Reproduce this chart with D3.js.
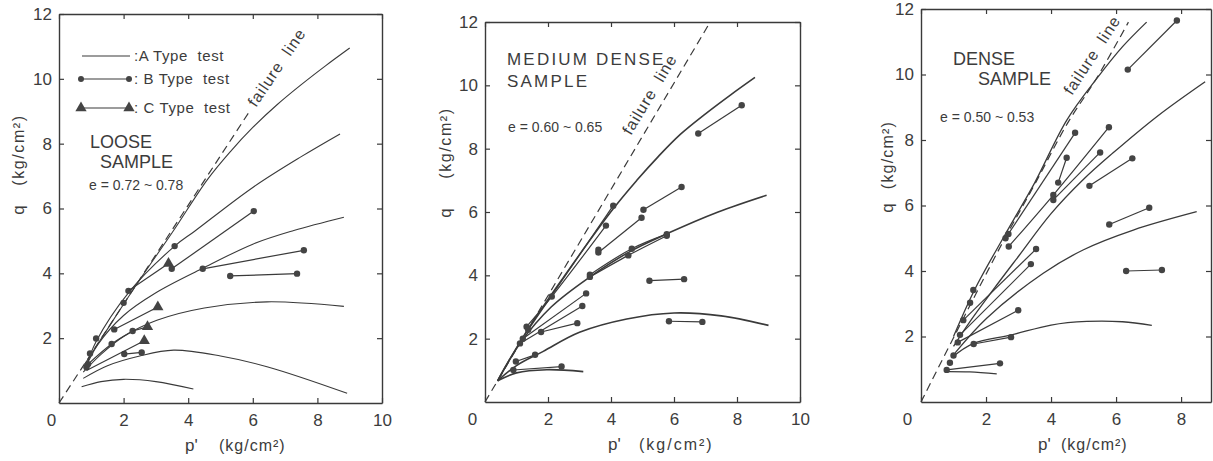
<!DOCTYPE html>
<html>
<head>
<meta charset="utf-8">
<script src="https://cdn.jsdelivr.net/npm/d3@7/dist/d3.min.js"></script>
<style>
  body { margin: 0; background: #fff; }
  svg { display: block; font-family: "Liberation Sans", Arial, sans-serif; }
</style>
</head>
<body>
<svg id="chart" width="1213" height="461"></svg>
<script>
// tick labels
const xTicksWide = [0, 2, 4, 6, 8, 10];
const xTicksNarrow = [0, 2, 4, 6, 8];
const yTickLabels = [2, 4, 6, 8, 10, 12];

// ---- loose sample (e = 0.72 ~ 0.78) ----
const looseFailure = [[0, 0], [5.9, 9.0]];
const looseA = [
  [[0.8, 1.2], [1.5, 2.28], [2.5, 3.8], [3.5, 5.25], [4.6, 6.9], [5.3, 7.75], [6.0, 8.5], [6.75, 9.2], [7.5, 9.82], [8.25, 10.4], [9.0, 10.95]],
  [[0.85, 1.15], [1.15, 1.9], [2.15, 3.4], [3.58, 4.84], [4.2, 5.3], [6.0, 6.65], [7.5, 7.6], [8.7, 8.3]],
  [[0.8, 1.05], [1.2, 1.8], [2.0, 2.7], [3.0, 3.4], [4.42, 4.14], [6.0, 4.9], [7.27, 5.32], [8.82, 5.73]],
  [[0.75, 0.95], [1.3, 1.5], [2.0, 2.05], [3.03, 2.55], [4.5, 2.93], [6.44, 3.12], [8.82, 2.98]],
  [[0.75, 0.76], [1.5, 1.15], [2.5, 1.45], [3.55, 1.63], [5.0, 1.45], [6.44, 1.12], [8.92, 0.3]],
  [[0.7, 0.5], [1.3, 0.66], [2.0, 0.73], [3.0, 0.66], [4.16, 0.43]]
];
const looseB = [
  [[3.49, 4.14], [6.03, 5.92]],
  [[4.45, 4.14], [7.58, 4.71]],
  [[5.3, 3.92], [7.37, 3.99]],
  [[2.02, 1.51], [2.56, 1.56]],
  [[0.9, 1.2], [1.63, 1.82], [2.28, 2.22]]
];
const looseC = [
  [[1.71, 2.27], [3.06, 2.96]],
  [[2.28, 2.22], [2.74, 2.35]],
  [[0.85, 1.0], [2.64, 1.92]],
  [[2.15, 3.46], [3.39, 4.3]]
];
const looseDots = [[1.15, 1.99], [2.15, 3.46], [3.58, 4.84], [0.96, 1.53], [2.0, 3.09], [1.71, 2.27], [0.85, 1.1]];

// ---- medium dense sample (e = 0.60 ~ 0.65) ----
const medFailure = [[0, 0], [7.09, 11.9]];
const medA = [
  [[0.4, 0.67], [1.3, 2.2], [2.5, 3.95], [4.07, 6.1], [4.82, 7.0], [5.5, 7.75], [6.2, 8.45], [7.0, 9.1], [7.8, 9.7], [8.57, 10.25]],
  [[0.4, 0.67], [1.11, 1.85], [2.1, 3.0], [3.33, 3.95], [4.6, 4.75], [5.77, 5.31], [7.4, 6.0], [8.94, 6.53]],
  [[0.4, 0.67], [1.0, 1.15], [1.85, 1.6], [3.0, 2.2], [4.5, 2.62], [6.0, 2.81], [7.5, 2.72], [9.0, 2.42]],
  [[0.4, 0.67], [1.0, 0.92], [1.96, 1.02], [3.12, 0.96]]
];
const medB = [
  [[0.9, 1.01], [2.43, 1.12]],
  [[0.98, 1.28], [1.59, 1.49]],
  [[1.78, 2.21], [2.93, 2.49]],
  [[1.11, 1.85], [3.09, 3.03]],
  [[1.2, 2.0], [3.21, 3.43]],
  [[1.32, 2.38], [2.12, 3.33], [3.84, 5.57]],
  [[1.37, 2.28], [4.07, 6.2]],
  [[3.33, 3.95], [4.55, 4.63], [5.77, 5.25]],
  [[3.33, 4.02], [4.66, 4.84], [5.77, 5.3]],
  [[3.6, 4.72], [4.97, 5.82]],
  [[5.03, 6.07], [6.24, 6.79]],
  [[6.77, 8.48], [8.15, 9.37]],
  [[5.22, 3.83], [6.32, 3.88]],
  [[5.84, 2.55], [6.9, 2.53]]
];
const medDots = [[3.6, 4.81]];

// ---- dense sample (e = 0.50 ~ 0.53) ----
const denseFailure = [[0, 0], [1.25, 2.45], [2.5, 4.85], [3.5, 6.65], [4.5, 8.5], [5.41, 9.9], [6.38, 11.6]];
const denseA = [
  [[1.0, 2.0], [1.66, 3.45], [2.58, 5.1], [3.5, 6.7], [4.48, 8.6], [5.41, 9.88], [6.2, 10.85], [6.94, 11.6]],
  [[1.0, 1.7], [1.5, 2.45], [2.2, 3.4], [3.0, 4.45], [4.0, 5.75], [5.0, 6.8], [5.9, 7.6], [7.3, 8.75], [8.74, 9.78]],
  [[1.05, 1.5], [2.02, 2.56], [3.76, 3.93], [5.0, 4.65], [6.53, 5.25], [8.48, 5.81]],
  [[0.94, 1.35], [1.6, 1.78], [2.79, 2.05], [4.0, 2.35], [5.1, 2.46], [6.2, 2.45], [7.1, 2.34]],
  [[0.79, 0.93], [1.5, 0.92], [2.33, 0.86]]
];
const denseB = [
  [[0.79, 0.98], [2.43, 1.18]],
  [[1.62, 1.77], [2.77, 1.98]],
  [[1.13, 1.82], [2.99, 2.8]],
  [[1.2, 2.05], [3.38, 4.21]],
  [[1.3, 2.5], [3.54, 4.67]],
  [[2.6, 5.0], [4.74, 8.22]],
  [[2.7, 4.75], [4.07, 6.32], [5.78, 8.39]],
  [[4.07, 6.17], [5.51, 7.62]],
  [[4.22, 6.7], [4.48, 7.46]],
  [[5.18, 6.6], [6.5, 7.44]],
  [[5.79, 5.42], [7.02, 5.93]],
  [[6.31, 4.0], [7.41, 4.03]],
  [[6.36, 10.15], [7.87, 11.65]]
];
const denseDots = [[0.89, 1.2], [1.0, 1.42], [1.51, 3.03], [1.61, 3.42], [2.69, 5.13]];

const ink = "#3a3a3a";
const txt = "#3c3c3c";
const nb = "\u00a0";
const svg = d3.select("#chart");

const panels = [
  {
    left: 59, right: 382, top: 14, bottom: 403, xMax: 10, xTicks: xTicksWide, zeroDx: -8,
    failure: looseFailure, aCurves: looseA, bLines: looseB, cLines: looseC, dots: looseDots, aWidth: 1.1,
    titles: [{ t: "LOOSE", x: 90, y: 148, s: 18 }, { t: "SAMPLE", x: 100, y: 168, s: 18 }, { t: "e = 0.72 ~ 0.78", x: 89, y: 190, s: 14 }],
    failText: { x: 256, y: 108, a: -56 },
    yLab: { x: 24, q: 210, unit: 150, ls: 1.6 }, xLab: { p: 185, unit: 219, y: 451, ls: 1 }
  },
  {
    left: 485, right: 800, top: 22, bottom: 402, xMax: 10, xTicks: xTicksWide, zeroDx: -13,
    failure: medFailure, aCurves: medA, bLines: medB, cLines: [], dots: medDots, aWidth: 1.6,
    titles: [{ t: "MEDIUM DENSE", x: 507, y: 65, s: 17, ls: 2.2 }, { t: "SAMPLE", x: 507, y: 87, s: 17, ls: 2.2 }, { t: "e = 0.60 ~ 0.65", x: 508, y: 132, s: 14 }],
    failText: { x: 631, y: 136, a: -59 },
    yLab: { x: 451, q: 213, unit: 143, ls: 1.6 }, xLab: { p: 608, unit: 639, y: 450, ls: 2 }
  },
  {
    left: 921, right: 1211, top: 9, bottom: 402, xMax: 8.92, xTicks: xTicksNarrow, zeroDx: -14,
    failure: denseFailure, aCurves: denseA, bLines: denseB, cLines: [], dots: denseDots, aWidth: 1.3,
    titles: [{ t: "DENSE", x: 953, y: 65, s: 18 }, { t: "SAMPLE", x: 978, y: 85, s: 18 }, { t: "e = 0.50 ~ 0.53", x: 940, y: 122, s: 14 }],
    failText: { x: 1072, y: 96, a: -57 },
    yLab: { x: 893, q: 208, unit: 155, ls: 1.2 }, xLab: { p: 1038, unit: 1061, y: 450, ls: 1 }
  }
];

panels.forEach(p => {
  const x = d3.scaleLinear().domain([0, p.xMax]).range([p.left, p.right]);
  const y = d3.scaleLinear().domain([0, 12]).range([p.bottom, p.top]);
  const g = svg.append("g");

  const styleAxis = (sel, labels) => {
    sel.select(".domain").attr("stroke", ink).attr("stroke-width", 1.4);
    sel.selectAll(".tick line").attr("stroke", ink).attr("stroke-width", 1.2);
    sel.selectAll(".tick text").attr("fill", txt).attr("font-size", 17)
      .attr("font-family", "Liberation Sans, Arial, sans-serif");
    if (!labels) sel.selectAll(".tick text").remove();
  };

  // frame with inward ticks
  g.append("g").attr("transform", `translate(0,${p.bottom})`)
    .call(d3.axisBottom(x).tickValues(p.xTicks).tickSizeInner(-5).tickSizeOuter(0).tickPadding(11))
    .call(s => styleAxis(s, true))
    .call(s => s.selectAll(".tick text").filter(d => d === 0).attr("dx", p.zeroDx));
  g.append("g").attr("transform", `translate(0,${p.top})`)
    .call(d3.axisTop(x).tickValues(p.xTicks).tickSizeInner(-5).tickSizeOuter(0))
    .call(s => styleAxis(s, false));
  g.append("g").attr("transform", `translate(${p.left},0)`)
    .call(d3.axisLeft(y).tickValues(yTickLabels).tickSizeInner(-5).tickSizeOuter(0).tickPadding(7))
    .call(s => styleAxis(s, true));
  g.append("g").attr("transform", `translate(${p.right},0)`)
    .call(d3.axisRight(y).tickValues(yTickLabels).tickSizeInner(-5).tickSizeOuter(0))
    .call(s => styleAxis(s, false));

  const smooth = d3.line().x(d => x(d[0])).y(d => y(d[1])).curve(d3.curveCatmullRom.alpha(0.5));
  const straight = d3.line().x(d => x(d[0])).y(d => y(d[1]));

  // failure line
  g.append("path").attr("d", smooth(p.failure)).attr("fill", "none")
    .attr("stroke", ink).attr("stroke-width", 1.2).attr("stroke-dasharray", "8,5");

  // A type paths
  g.selectAll(".a").data(p.aCurves).join("path")
    .attr("d", smooth).attr("fill", "none").attr("stroke", ink).attr("stroke-width", p.aWidth);

  // B type paths
  g.selectAll(".b").data(p.bLines).join("path")
    .attr("d", d => d.length > 2 ? smooth(d) : straight(d))
    .attr("fill", "none").attr("stroke", ink).attr("stroke-width", 1.2);
  g.selectAll(".bd").data(p.bLines.flat().concat(p.dots)).join("circle")
    .attr("cx", d => x(d[0])).attr("cy", d => y(d[1])).attr("r", 3.2).attr("fill", "#444");

  // C type paths (triangle at the end)
  g.selectAll(".c").data(p.cLines).join("path")
    .attr("d", straight).attr("fill", "none").attr("stroke", ink).attr("stroke-width", 1.2);
  g.selectAll(".ct").data(p.cLines.map(d => d[d.length - 1])).join("path")
    .attr("d", d3.symbol().type(d3.symbolTriangle).size(55))
    .attr("transform", d => `translate(${x(d[0])},${y(d[1])})`).attr("fill", "#444");

  // sample titles
  p.titles.forEach(t => {
    g.append("text").attr("x", t.x).attr("y", t.y).attr("font-size", t.s)
      .attr("letter-spacing", t.ls || 0).attr("fill", txt).text(t.t);
  });

  g.append("text")
    .attr("transform", `translate(${p.failText.x},${p.failText.y}) rotate(${p.failText.a})`)
    .attr("font-size", 16).attr("letter-spacing", 1).attr("fill", txt)
    .text("failure" + nb + nb + "line");

  // axis titles
  g.append("text").attr("transform", `translate(${p.yLab.x},${p.yLab.q}) rotate(-90)`)
    .attr("text-anchor", "middle").attr("font-size", 17).attr("fill", txt).text("q");
  g.append("text").attr("transform", `translate(${p.yLab.x},${p.yLab.unit}) rotate(-90)`)
    .attr("text-anchor", "middle").attr("font-size", 16).attr("letter-spacing", p.yLab.ls)
    .attr("fill", txt).text("(kg/cm²)");
  g.append("text").attr("x", p.xLab.p).attr("y", p.xLab.y).attr("font-size", 17).attr("fill", txt).text("p'");
  g.append("text").attr("x", p.xLab.unit).attr("y", p.xLab.y).attr("font-size", 16)
    .attr("letter-spacing", p.xLab.ls).attr("fill", txt).text("(kg/cm²)");
});

// legend of the loose panel
const legend = svg.append("g");
const legendRows = [
  { label: ":A Type" + nb + nb + "test", y: 56, mark: null },
  { label: ":" + nb + "B Type" + nb + nb + "test", y: 79, mark: "dot" },
  { label: ":" + nb + "C Type" + nb + nb + "test", y: 108, mark: "tri" }
];
legendRows.forEach(r => {
  legend.append("line").attr("x1", 82).attr("x2", 130).attr("y1", r.y).attr("y2", r.y)
    .attr("stroke", ink).attr("stroke-width", 1.2);
  [81, 129].forEach(cx => {
    if (r.mark === "dot") legend.append("circle").attr("cx", cx).attr("cy", r.y).attr("r", 3).attr("fill", "#444");
    if (r.mark === "tri") legend.append("path").attr("d", d3.symbol().type(d3.symbolTriangle).size(55))
      .attr("transform", `translate(${cx},${r.y})`).attr("fill", "#444");
  });
  legend.append("text").attr("x", 134).attr("y", r.y + 5).attr("font-size", 15)
    .attr("letter-spacing", 0.6).attr("fill", txt).text(r.label);
});
</script>
</body>
</html>
